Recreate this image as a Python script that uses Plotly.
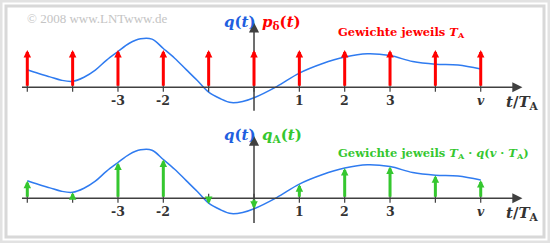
import plotly.graph_objects as go

# ---- data ----
t_curve = [-5, -4.75, -4.5, -4.25, -4, -3.75, -3.5, -3.25, -3, -2.75, -2.5, -2.25, -2, -1.75, -1.5, -1.25, -1,
           -0.75, -0.5, -0.25, 0, 0.5, 1, 1.5, 2, 2.5, 3, 3.5, 4, 4.5, 5]
q_curve = [0.47, 0.37, 0.28, 0.19, 0.16, 0.27, 0.46, 0.73, 0.96, 1.18, 1.30, 1.29, 1.04, 0.78, 0.48, 0.18, -0.13,
           -0.30, -0.41, -0.38, -0.28, 0.02, 0.38, 0.63, 0.81, 0.90, 0.85, 0.69, 0.62, 0.60, 0.49]

t_samples = [-5, -4, -3, -2, -1, 0, 1, 2, 3, 4, 5]
dirac_weights = [1, 1, 1, 1, 1, 1, 1, 1, 1, 1, 1]
q_samples = [0.47, 0.16, 0.96, 1.04, -0.15, -0.28, 0.38, 0.81, 0.85, 0.62, 0.49]

tick_t = [-3, -2, 1, 2, 3, 5]
tick_labels = ["-3", "-2", "1", "2", "3", "<i>v</i>"]

W, H = 550, 243
BLUE = "#2f7bf0"
RED = "#ff0000"
GREEN = "#35c72f"
AXC = "#404040"
BSERIF = "DejaVu Serif"

fig = go.Figure()

for ax in ["", "2"]:
    fig.add_trace(go.Scatter(x=t_curve, y=q_curve, mode="lines",
                             line=dict(color=BLUE, width=1.5, shape="spline", smoothing=1.0),
                             xaxis="x" + ax, yaxis="y" + ax, hoverinfo="skip", showlegend=False))
    tx, ty = [], []
    for t in t_samples:
        tx += [t, t, None]
        ty += [-0.12, 0.12, None]
    fig.add_trace(go.Scatter(x=tx, y=ty, mode="lines", line=dict(color=AXC, width=1.2),
                             xaxis="x" + ax, yaxis="y" + ax, hoverinfo="skip", showlegend=False))

ann = []
for ax, ylo, yhi in [("", -0.67, 1.74), ("2", -0.70, 1.68)]:
    xr = "x" + ax
    yr = "y" + ax
    ann.append(dict(x=5.92, y=0, ax=-5.15, ay=0, xref=xr, yref=yr, axref=xr, ayref=yr, showarrow=True,
                    arrowhead=2, arrowsize=1.35, arrowwidth=1.5, arrowcolor=AXC, text=""))
    ann.append(dict(x=0, y=yhi, ax=0, ay=ylo, xref=xr, yref=yr, axref=xr, ayref=yr, showarrow=True,
                    arrowhead=2, arrowsize=1.35, arrowwidth=1.5, arrowcolor=AXC, text=""))
    for t, lab in zip(tick_t, tick_labels):
        ann.append(dict(x=t, y=-0.36, xref=xr, yref=yr, text=lab, showarrow=False,
                        font=dict(family=BSERIF, size=12.5, color="#333333", weight="bold"), yanchor="middle"))
    ann.append(dict(x=5.52, y=-0.42, xref=xr, yref=yr, xanchor="left",
                    text="<i>t</i>/<i>T</i><sub>A</sub>", showarrow=False,
                    font=dict(family=BSERIF, size=15, color="#333333", weight="bold"), yanchor="middle"))

for t, w in zip(t_samples, dirac_weights):
    ann.append(dict(x=t, y=w, ax=t, ay=0, xref="x", yref="y", axref="x", ayref="y", showarrow=True,
                    arrowhead=2, arrowsize=0.5, arrowwidth=3, arrowcolor=RED, text=""))
for t, q in zip(t_samples, q_samples):
    ann.append(dict(x=t, y=q, ax=t, ay=0, xref="x2", yref="y2", axref="x2", ayref="y2", showarrow=True,
                    arrowhead=2, arrowsize=0.5, arrowwidth=3, arrowcolor=GREEN, text=""))


def P(px, py):
    return px / W, 1 - py / H


def label(px, py, text, size, color, fam, weight="bold"):
    x0, y0 = P(px, py)
    ann.append(dict(x=x0, y=y0, xref="paper", yref="paper", xanchor="left", yanchor="middle", showarrow=False,
                    text=text, font=dict(family=fam, size=size, color=color, weight=weight)))


label(222, 22, "<i>q</i>(<i>t</i>)", 15, "#1f5fe0", BSERIF)
label(260, 22, "<i>p</i><sub>δ</sub>(<i>t</i>)", 15, RED, BSERIF)
label(222, 135, "<i>q</i>(<i>t</i>)", 15, "#1f5fe0", BSERIF)
label(260, 135, "<i>q</i><sub>A</sub>(<i>t</i>)", 15, GREEN, BSERIF)
label(336, 33, "Gewichte jeweils <i>T</i><sub>A</sub>", 11.5, RED, BSERIF)
label(336, 153, "Gewichte jeweils <i>T</i><sub>A</sub> · <i>q</i>(<i>v</i> · <i>T</i><sub>A</sub>)", 11.5, GREEN, BSERIF)
label(25, 19, "© 2008 www.LNTwww.de", 13, "#c4c4c4", "Liberation Serif", "normal")

ax_common = dict(visible=False, showgrid=False, zeroline=False, fixedrange=True)
fig.update_layout(
    width=W, height=H, margin=dict(l=0, r=0, t=0, b=0),
    paper_bgcolor="white", plot_bgcolor="rgba(0,0,0,0)",
    xaxis=dict(range=[-5.602, 6.528], domain=[0, 1], anchor="y", **ax_common),
    yaxis=dict(range=[-0.917, 2.340], domain=[0.5, 1], anchor="x", **ax_common),
    xaxis2=dict(range=[-5.602, 6.528], domain=[0, 1], anchor="y2", **ax_common),
    yaxis2=dict(range=[-1.198, 2.059], domain=[0, 0.5], anchor="x2", **ax_common),
    annotations=ann,
    shapes=[
        dict(type="rect", xref="paper", yref="paper", x0=1 / W, y0=1 / H, x1=1 - 1 / W, y1=1 - 1 / H,
             line=dict(color="#e2e2e2", width=3)),
        dict(type="rect", xref="paper", yref="paper", x0=6 / W, y0=6 / H, x1=1 - 6 / W, y1=1 - 6 / H,
             line=dict(color="#d8d8d8", width=3)),
    ],
    showlegend=False,
)

fig.write_html("out.html")
